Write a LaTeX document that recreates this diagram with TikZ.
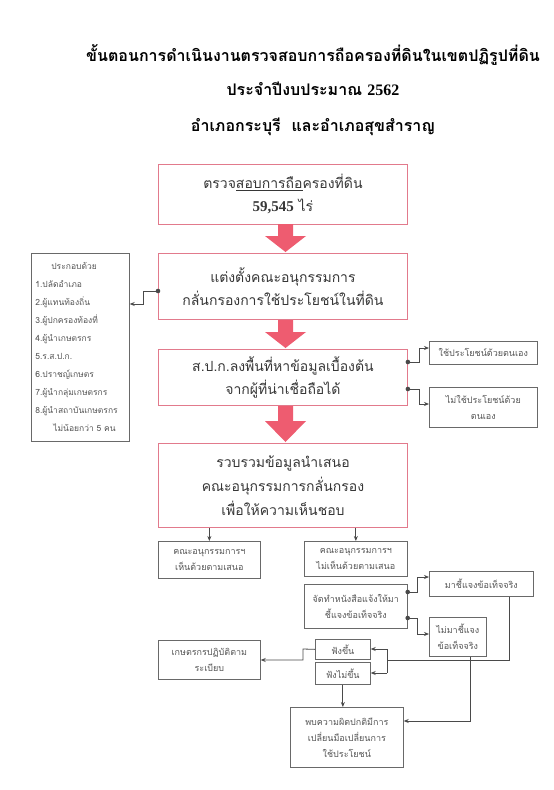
\documentclass[tikz,border=0pt]{standalone}
\usepackage{fontspec}
\setmainfont[Script=Thai]{Loma}
\newfontfamily\numf{Liberation Serif}
\usetikzlibrary{arrows.meta}
\definecolor{pinkline}{RGB}{226,122,140}
\definecolor{arrfill}{RGB}{238,92,112}
\definecolor{boxgray}{RGB}{105,105,105}
\definecolor{txt}{RGB}{55,55,55}
\definecolor{ltxt}{RGB}{85,85,85}
\newcommand\redarr[3]{\fill[arrfill] (278,#1) -- (293,#1) -- (293,#2) -- (306,#2) -- (285.5,#3) -- (265,#2) -- (278,#2) -- cycle;}
\begin{document}
\begin{tikzpicture}[x=1pt,y=-1pt,
  pinkbox/.style={draw=pinkline, line width=0.9pt, inner sep=0pt, anchor=north west, align=center, text=txt, font=\fontsize{14}{23}\selectfont},
  graybox/.style={draw=boxgray, line width=0.7pt, inner sep=0pt, anchor=north west, align=center, text=ltxt, font=\fontsize{9}{16}\selectfont},
  conn/.style={draw=boxgray!70!black, line width=0.8pt, -{Stealth[length=5pt,width=4pt]}},
  plain/.style={draw=boxgray!70!black, line width=0.8pt},
  title/.style={font=\fontsize{16}{16}\selectfont\bfseries, text=black}
]
\useasboundingbox (0,0) rectangle (554,790);
\fill[white] (0,0) rectangle (554,790);

% titles
\node[title] (t1) at (313,55) {ขั้นตอนการดำเนินงานตรวจสอบการถือครองที่ดินในเขตปฏิรูปที่ดิน};
\node[title] (t2) at (313,89) {ประจำปีงบประมาณ {\numf\bfseries 2562}};
\node[title] (t3) at (313,127) {อำเภอกระบุรี \ และอำเภอสุขสำราญ};

% main pink boxes
\node[pinkbox, minimum width=249, minimum height=60] (b1) at (158,164) {ตรวจสอบการถือครองที่ดิน\\{\numf\bfseries\fontsize{15}{15}\selectfont 59,545} ไร่};
\node[pinkbox, minimum width=249, minimum height=66] (b2) at (158,253) {แต่งตั้งคณะอนุกรรมการ\\กลั่นกรองการใช้ประโยชน์ในที่ดิน};
\node[pinkbox, minimum width=249, minimum height=56] (b3) at (158,349) {ส.ป.ก.ลงพื้นที่หาข้อมูลเบื้องต้น\\จากผู้ที่น่าเชื่อถือได้};
\node[pinkbox, minimum width=249, minimum height=84, font=\fontsize{14}{24}\selectfont] (b4) at (158,443) {รวบรวมข้อมูลนำเสนอ\\คณะอนุกรรมการกลั่นกรอง\\เพื่อให้ความเห็นชอบ};
\draw[txt, line width=0.6pt] (236,190) -- (303,190);

% red block arrows
\redarr{224}{236}{252}
\redarr{320}{332}{348}
\redarr{406}{421}{442}

% left list box
\node[graybox, minimum width=98, minimum height=188, text width=90, align=left, font=\fontsize{8.5}{18}\selectfont] (lb) at (31,253) {\hspace*{16pt}ประกอบด้วย\\1.ปลัดอำเภอ\\2.ผู้แทนท้องถิ่น\\3.ผู้ปกครองท้องที่\\4.ผู้นำเกษตรกร\\5.ร.ส.ป.ก.\\6.ปราชญ์เกษตร\\7.ผู้นำกลุ่มเกษตรกร\\8.ผู้นำสถาบันเกษตรกร\\\hspace*{18pt}ไม่น้อยกว่า 5 คน};

% right boxes of b3
\node[graybox, minimum width=108, minimum height=23] (ra) at (429,341) {ใช้ประโยชน์ด้วยตนเอง};
\node[graybox, minimum width=108, minimum height=40] (rb) at (429,387) {ไม่ใช้ประโยชน์ด้วย\\ตนเอง};

% lower boxes
\node[graybox, minimum width=102, minimum height=37] (yes) at (158,541) {คณะอนุกรรมการฯ\\เห็นด้วยตามเสนอ};
\node[graybox, minimum width=103, minimum height=35] (no) at (304,541) {คณะอนุกรรมการฯ\\ไม่เห็นด้วยตามเสนอ};
\node[graybox, minimum width=103, minimum height=44] (let) at (304,584) {จัดทำหนังสือแจ้งให้มา\\ชี้แจงข้อเท็จจริง};
\node[graybox, minimum width=104, minimum height=25] (come) at (429,571) {มาชี้แจงข้อเท็จจริง};
\node[graybox, minimum width=57, minimum height=39] (nocome) at (429,617) {ไม่มาชี้แจง\\ข้อเท็จจริง};
\node[graybox, minimum width=102, minimum height=39] (farm) at (158,640) {เกษตรกรปฏิบัติตาม\\ระเบียบ};
\node[graybox, minimum width=55, minimum height=20] (up) at (315,639) {ฟังขึ้น};
\node[graybox, minimum width=55, minimum height=22] (down) at (315,662) {ฟังไม่ขึ้น};
\node[graybox, minimum width=113, minimum height=60] (found) at (290,707) {พบความผิดปกติมีการ\\เปลี่ยนมือเปลี่ยนการ\\ใช้ประโยชน์};

% connectors
\coordinate (k1) at (143,291); \coordinate (k2) at (143,304);
\draw[conn] (b2.west|-k1) -- (k1) -- (k2) -- (lb.east|-k2);
\fill[boxgray!70!black] (b2.west|-k1) circle (2.3pt);

\coordinate (k3) at (419,362); \coordinate (k4) at (419,348);
\draw[conn] (b3.east|-k3) -- (k3) -- (k4) -- (ra.west|-k4);
\fill[boxgray!70!black] (b3.east|-k3) circle (2.3pt);
\coordinate (k5) at (419,389); \coordinate (k6) at (419,404);
\draw[conn] (b3.east|-k5) -- (k5) -- (k6) -- (rb.west|-k6);
\fill[boxgray!70!black] (b3.east|-k5) circle (2.3pt);

\draw[conn] (b4.south-|yes.north) -- (yes.north);
\draw[conn] (b4.south-|no.north) -- (no.north);

\coordinate (k8) at (417,592); \coordinate (k9) at (417,577);
\draw[conn] (let.east|-k8) -- (k8) -- (k9) -- (come.west|-k9);
\fill[boxgray!70!black] (let.east|-k8) circle (2.3pt);
\coordinate (k10) at (417,618); \coordinate (k11) at (417,634);
\draw[conn] (let.east|-k10) -- (k10) -- (k11) -- (nocome.west|-k11);
\fill[boxgray!70!black] (let.east|-k10) circle (2.3pt);

\coordinate (k12) at (509,660); \coordinate (k13) at (387,660);
\draw[plain] (come.south-|k12) -- (k12) -- (k13);
\coordinate (k14) at (387,649); \coordinate (k15) at (387,673);
\draw[plain] (k14) -- (k15);
\draw[conn] (k14) -- (up.east|-k14);
\draw[conn] (k15) -- (down.east|-k15);

\coordinate (k16) at (470,721);
\draw[conn] (nocome.south-|k16) -- (k16) -- (found.east|-k16);

\coordinate (k17) at (303,649); \coordinate (k18) at (303,660);
\draw[conn] (up.west) -- (k17) -- (k18) -- (farm.east|-k18);

\draw[conn] (down.south) -- (found.north-|down.south);
\end{tikzpicture}
\end{document}
